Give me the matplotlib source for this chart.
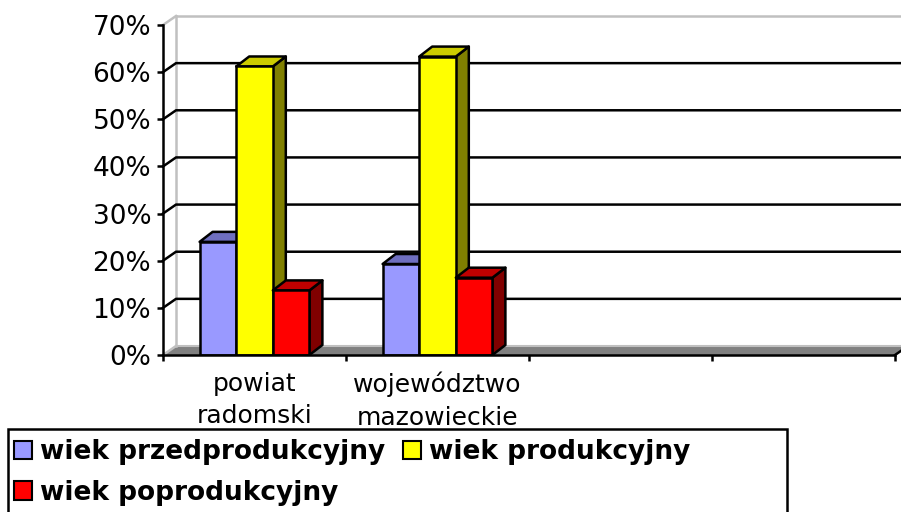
import numpy as np
import matplotlib
matplotlib.use('Agg')
import matplotlib.pyplot as plt
from matplotlib.patches import Polygon, Rectangle, Patch
from matplotlib.ticker import PercentFormatter

# data (share of population)
categories = ['powiat\nradomski', 'województwo\nmazowieckie', '', '']
series_names = ['wiek przedprodukcyjny', 'wiek produkcyjny', 'wiek poprodukcyjny']
przed = [0.240, 0.193]
prod = [0.612, 0.633]
popr = [0.137, 0.164]
y_ticks = [0.0, 0.1, 0.2, 0.3, 0.4, 0.5, 0.6, 0.7]

front_colors = ['#9999FF', '#FFFF00', '#FF0000']
side_colors = ['#666699', '#808000', '#800000']
top_colors = ['#6F6FC0', '#CCCC00', '#C00000']

W, H = 901, 512
fig = plt.figure(figsize=(W / 100, H / 100), dpi=100)
ax_l, ax_r, ax_b, ax_t = 163, 895, 355, 25
ax = fig.add_axes([ax_l / W, (H - ax_b) / H, (ax_r - ax_l) / W, (ax_b - ax_t) / H])
ax.set_xlim(0, len(categories))
ax.set_ylim(0, 0.7)
ax.patch.set_visible(False)

# depth offsets, pixels -> data units
px_x = (ax_r - ax_l) / len(categories)
px_y = (ax_b - ax_t) / 0.7
WX, WY = 13 / px_x, 9 / px_y
BX, BY = 13 / px_x, 10 / px_y
xend = len(categories) + 0.2
lw = 1.8

# floor
ax.add_patch(Polygon([(0, 0), (len(categories), 0), (len(categories) + WX, WY), (WX, WY)],
                     closed=True, facecolor='#808080', edgecolor='none', zorder=1, clip_on=False))
ax.plot([WX, xend], [WY, WY], color='#C0C0C0', lw=1.5, zorder=1.5, clip_on=False)
ax.plot([len(categories), len(categories) + WX], [0, WY], color='black', lw=lw, zorder=1.5, clip_on=False)

# walls
gray = '#C0C0C0'
ax.plot([WX, xend], [0.7 + WY, 0.7 + WY], color=gray, lw=1.8, zorder=1, clip_on=False)
ax.plot([WX, WX], [WY, 0.7 + WY], color=gray, lw=1.8, zorder=1, clip_on=False)
ax.plot([0, WX], [0.7, 0.7 + WY], color=gray, lw=1.8, zorder=1, clip_on=False)
ax.plot([0, WX], [0, WY], color=gray, lw=1.8, zorder=1.5, clip_on=False)
for v in y_ticks[1:-1]:
    ax.plot([0, WX, xend], [v, v + WY, v + WY], color='black', lw=lw, zorder=2, clip_on=False)

# bars
bw = 0.2
x = np.arange(len(przed)) + 0.5
for i, vals in enumerate([przed, prod, popr]):
    lefts = x - 1.5 * bw + i * bw
    for xl, v in zip(lefts, vals):
        ax.add_patch(Polygon([(xl + bw, 0), (xl + bw + BX, BY), (xl + bw + BX, v + BY), (xl + bw, v)],
                             closed=True, facecolor=side_colors[i], edgecolor='black', lw=lw,
                             zorder=3 + i, joinstyle='round'))
        ax.add_patch(Polygon([(xl, v), (xl + bw, v), (xl + bw + BX, v + BY), (xl + BX, v + BY)],
                             closed=True, facecolor=top_colors[i], edgecolor='black', lw=lw,
                             zorder=3 + i, joinstyle='round'))
    ax.bar(lefts, vals, width=bw, align='edge', color=front_colors[i], edgecolor='black',
           linewidth=lw, zorder=3 + i)

# axes
for s in ['top', 'right']:
    ax.spines[s].set_visible(False)
for s in ['left', 'bottom']:
    ax.spines[s].set_linewidth(lw)
    ax.spines[s].set_zorder(8)
ax.set_yticks(y_ticks)
ax.yaxis.set_major_formatter(PercentFormatter(1.0, decimals=0))
ax.tick_params(axis='y', length=4.5, width=lw, pad=4, labelsize=19)
ax.set_xticks(np.arange(len(categories) + 1))
ax.set_xticklabels([])
ax.set_xticks(np.arange(len(categories)) + 0.5, minor=True)
ax.set_xticklabels(categories, minor=True, linespacing=1.45)
ax.tick_params(axis='x', which='major', length=4.5, width=lw)
ax.tick_params(axis='x', which='minor', length=0, pad=12, labelsize=18)

# legend box
fig.patches.append(Rectangle((8 / W, -0.05), (787 - 8) / W, (H - 429) / H + 0.05,
                             transform=fig.transFigure, facecolor='white', edgecolor='black',
                             lw=1.8, zorder=5))
handles = [Patch(facecolor=c, edgecolor='black', lw=1.5) for c in front_colors]
order = [0, 2, 1]
leg = fig.legend([handles[k] for k in order], [series_names[k] for k in order],
                 loc='upper left', bbox_to_anchor=(14 / W, (H - 439) / H), ncol=2,
                 frameon=False, borderpad=0, borderaxespad=0,
                 handlelength=0.7, handleheight=0.7, handletextpad=0.3,
                 columnspacing=0.64, labelspacing=0.55,
                 prop={'weight': 'bold', 'size': 19})
leg.set_zorder(6)

fig.savefig('out.png', dpi=100)
